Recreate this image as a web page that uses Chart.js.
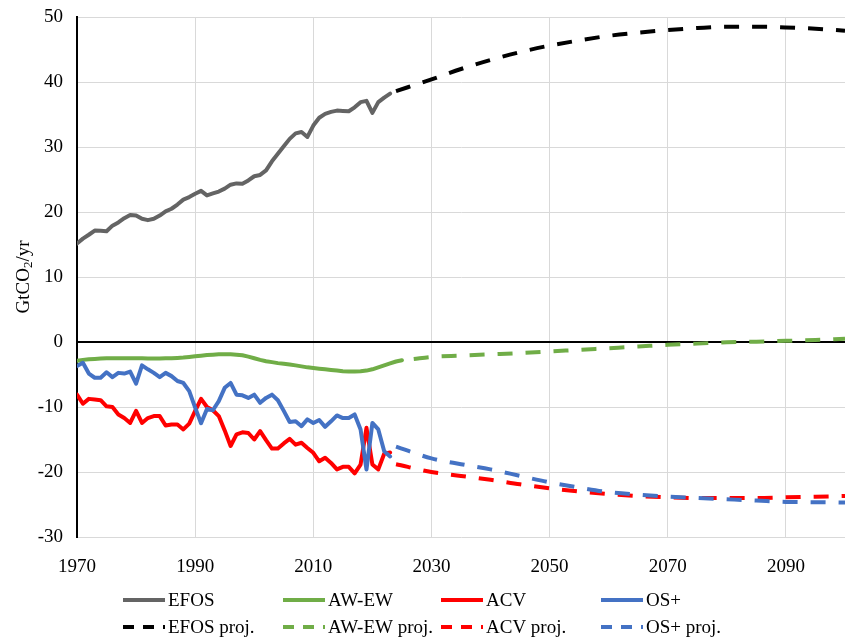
<!DOCTYPE html>
<html>
<head>
<meta charset="utf-8">
<script src="https://cdn.jsdelivr.net/npm/chart.js@4"></script>
<style>
  html, body { margin: 0; padding: 0; background: #fff; }
  #wrap { width: 847px; height: 637px; position: relative; }
</style>
</head>
<body>
<div id="wrap"><canvas id="chart"></canvas></div>
<script>
// Historical years 1970-2023 (AW-EW runs to 2025)
const histYears = [1970,1971,1972,1973,1974,1975,1976,1977,1978,1979,
  1980,1981,1982,1983,1984,1985,1986,1987,1988,1989,
  1990,1991,1992,1993,1994,1995,1996,1997,1998,1999,
  2000,2001,2002,2003,2004,2005,2006,2007,2008,2009,
  2010,2011,2012,2013,2014,2015,2016,2017,2018,2019,
  2020,2021,2022,2023,2024,2025];

const efos = [15.15,15.9,16.5,17.15,17.1,17.05,17.9,18.4,19.05,19.55,
  19.45,18.95,18.75,18.95,19.45,20.1,20.5,21.15,21.9,22.3,
  22.8,23.25,22.55,22.85,23.15,23.6,24.2,24.4,24.35,24.85,
  25.5,25.7,26.4,27.8,28.95,30.1,31.25,32.1,32.3,31.55,
  33.3,34.5,35.1,35.4,35.6,35.55,35.5,36.1,36.9,37.1,
  35.25,36.9,37.6,38.2];

const awew = [-2.9,-2.75,-2.65,-2.6,-2.55,-2.5,-2.5,-2.5,-2.5,-2.5,
  -2.5,-2.5,-2.55,-2.55,-2.55,-2.5,-2.5,-2.45,-2.4,-2.3,
  -2.2,-2.1,-2.0,-1.95,-1.9,-1.9,-1.9,-1.95,-2.05,-2.25,
  -2.5,-2.75,-2.95,-3.1,-3.25,-3.35,-3.45,-3.6,-3.75,-3.9,
  -4.0,-4.1,-4.2,-4.3,-4.4,-4.5,-4.55,-4.55,-4.5,-4.4,
  -4.2,-3.9,-3.6,-3.3,-3.0,-2.8];

const acv = [-8.1,-9.5,-8.75,-8.85,-8.95,-9.9,-10.0,-11.15,-11.7,-12.45,
  -10.6,-12.45,-11.7,-11.4,-11.4,-12.85,-12.7,-12.7,-13.45,-12.55,
  -10.6,-8.75,-10.0,-10.5,-11.4,-13.6,-16.0,-14.2,-13.9,-14.0,
  -15.0,-13.7,-15.1,-16.4,-16.4,-15.6,-14.9,-15.8,-15.5,-16.3,
  -17.05,-18.35,-17.8,-18.6,-19.6,-19.2,-19.2,-20.2,-18.85,-13.2,
  -18.85,-19.6,-17.2,-17.0];

const osPlus = [-3.7,-3.2,-4.85,-5.5,-5.5,-4.65,-5.4,-4.75,-4.85,-4.55,
  -6.4,-3.6,-4.2,-4.75,-5.4,-4.75,-5.25,-6.0,-6.3,-7.55,
  -10.1,-12.5,-10.3,-10.5,-9.1,-7.05,-6.3,-8.1,-8.2,-8.6,
  -8.1,-9.35,-8.6,-8.1,-8.95,-10.6,-12.3,-12.2,-12.95,-11.9,
  -12.45,-12.0,-13.05,-12.2,-11.3,-11.7,-11.7,-11.15,-13.45,-19.6,
  -12.45,-13.45,-16.8,-17.6];

// Projections
const projYears = [2024,2030,2035,2040,2045,2050,2055,2060,2065,2070,2075,2080,2085,2090,2095,2100];
const awewProjYears = [2027,2030,2035,2040,2045,2050,2055,2060,2065,2070,2075,2080,2085,2090,2095,2100];

const efosProj = [38.6,40.4,42.0,43.4,44.6,45.6,46.4,47.1,47.6,48.0,48.3,48.5,48.5,48.4,48.2,47.9];
const awewProj = [-2.6,-2.3,-2.1,-1.9,-1.7,-1.46,-1.2,-0.95,-0.7,-0.43,-0.25,-0.05,0.05,0.18,0.3,0.5];
const acvProj = [-18.8,-20.0,-20.6,-21.2,-21.9,-22.5,-23.0,-23.4,-23.7,-23.9,-24.0,-24.0,-24.0,-23.9,-23.8,-23.7];
const osPlusProj = [-16.1,-17.9,-18.8,-19.6,-20.6,-21.6,-22.4,-23.1,-23.5,-23.8,-24.0,-24.2,-24.4,-24.6,-24.65,-24.7];

const yTicks = [-30,-20,-10,0,10,20,30,40,50];
const xTicks = [1970,1990,2010,2030,2050,2070,2090];

const FONT = "'Liberation Serif', 'Times New Roman', serif";
const DASH = [15, 13];

function pts(xs, ys) {
  return ys.map((v, i) => ({ x: xs[i], y: v }));
}

function series(label, xs, ys, color, dashed) {
  return {
    label,
    data: pts(xs, ys),
    borderColor: color,
    backgroundColor: color,
    borderWidth: 4,
    borderDash: dashed ? DASH : [],
    borderCapStyle: dashed ? 'butt' : 'round',
    borderJoinStyle: 'round',
    pointRadius: 0,
    fill: false,
    cubicInterpolationMode: dashed ? 'monotone' : 'default',
    tension: 0
  };
}

const datasets = [
  series('EFOS', histYears, efos, '#646464', false),
  series('AW-EW', histYears, awew, '#70ad47', false),
  series('ACV', histYears, acv, '#ff0000', false),
  series('OS+', histYears, osPlus, '#4472c4', false),
  series('EFOS proj.', projYears, efosProj, '#000000', true),
  series('AW-EW proj.', awewProjYears, awewProj, '#70ad47', true),
  series('ACV proj.', projYears, acvProj, '#ff0000', true),
  series('OS+ proj.', projYears, osPlusProj, '#4472c4', true)
];
// later series on top, like the original
datasets.forEach((d, i) => { d.order = -i; });

// Y axis title with subscript 2, and a fixed grid legend underneath
const extras = {
  id: 'extras',
  afterDraw(chart) {
    const ctx = chart.ctx;
    const area = chart.chartArea;
    ctx.save();
    // axis title
    ctx.translate(24, (area.top + area.bottom) / 2);
    ctx.rotate(-Math.PI / 2);
    ctx.fillStyle = '#000';
    ctx.textBaseline = 'middle';
    const big = '19px ' + FONT, small = '13px ' + FONT;
    ctx.font = big;
    const w1 = ctx.measureText('GtCO').width;
    const w3 = ctx.measureText('/yr').width;
    ctx.font = small;
    const w2 = ctx.measureText('2').width;
    let x = -(w1 + w2 + w3) / 2;
    ctx.font = big;
    ctx.fillText('GtCO', x, 0);
    x += w1;
    ctx.font = small;
    ctx.fillText('2', x, 5);
    x += w2;
    ctx.font = big;
    ctx.fillText('/yr', x, 0);
    ctx.restore();

    // legend
    ctx.save();
    const cols = [123, 283, 441, 601];
    const rows = [600, 627];
    ctx.font = '19px ' + FONT;
    ctx.textBaseline = 'middle';
    chart.data.datasets.forEach((d, i) => {
      const lx = cols[i % 4];
      const ly = rows[Math.floor(i / 4)];
      ctx.strokeStyle = d.borderColor;
      ctx.lineWidth = 4;
      ctx.setLineDash(d.borderDash.length ? [11, 9] : []);
      ctx.lineCap = 'butt';
      ctx.beginPath();
      ctx.moveTo(lx, ly);
      ctx.lineTo(lx + 42, ly);
      ctx.stroke();
      ctx.fillStyle = '#000';
      ctx.fillText(d.label, lx + 45, ly + 1);
    });
    ctx.restore();
  }
};

new Chart(document.getElementById('chart'), {
  type: 'line',
  data: { datasets },
  options: {
    responsive: true,
    maintainAspectRatio: false,
    animation: false,
    layout: { padding: { top: 17, right: 2, left: 0, bottom: 0 } },
    plugins: {
      legend: { display: false },
      tooltip: { enabled: false }
    },
    scales: {
      x: {
        type: 'linear',
        min: 1970,
        max: 2100,
        afterFit: s => { s.height = 100; s.paddingLeft = 0; s.paddingRight = 0; },
        afterBuildTicks: s => { s.ticks = xTicks.map(v => ({ value: v })); },
        ticks: {
          padding: 19,
          font: { family: FONT, size: 19 },
          color: '#000',
          callback: v => String(v)
        },
        grid: { color: '#d9d9d9', lineWidth: 1, drawTicks: false },
        border: { display: false }
      },
      y: {
        min: -30,
        max: 50,
        afterFit: s => { s.width = 77; s.paddingTop = 0; s.paddingBottom = 0; },
        afterBuildTicks: s => { s.ticks = yTicks.map(v => ({ value: v })); },
        ticks: {
          padding: 14,
          font: { family: FONT, size: 19 },
          color: '#000',
          callback: v => String(v)
        },
        grid: {
          color: c => c.tick && c.tick.value === 0 ? '#000' : '#d9d9d9',
          lineWidth: c => c.tick && c.tick.value === 0 ? 2 : 1,
          drawTicks: false
        },
        border: { color: '#000', width: 2 }
      }
    }
  },
  plugins: [extras]
});
</script>
</body>
</html>
